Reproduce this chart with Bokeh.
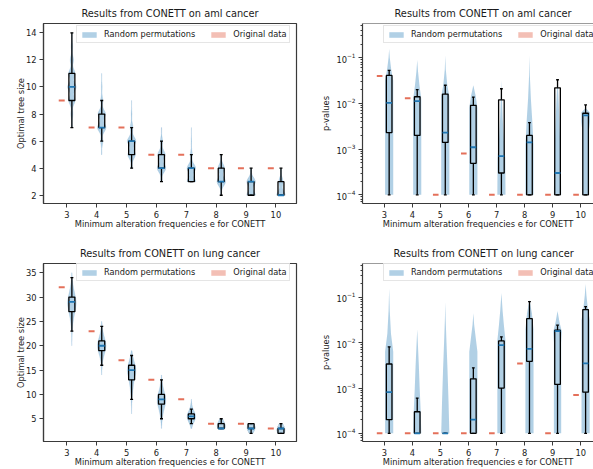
import numpy as np
from bokeh.plotting import figure
from bokeh.layouts import column, row
from bokeh.models import FixedTicker, Legend, LegendItem, Range1d, Span
from bokeh.embed import file_html
from bokeh.resources import INLINE

FONT = "DejaVu Sans"

# ---------------- data ----------------
e_values = [3, 4, 5, 6, 7, 8, 9, 10]

# AML cancer: optimal tree size
aml_size_original = [9, 7, 7, 5, 5, 4, 4, 4]
aml_size_whislo = [7, 6, 4, 3, 3, 2, 2, 2]
aml_size_q1 = [9, 7, 5, 4, 3, 3, 2, 2]
aml_size_median = [10, 7, 6, 4, 4, 3, 3, 2]
aml_size_q3 = [11, 8, 6, 5, 4, 4, 3, 3]
aml_size_whishi = [14, 9, 7, 6, 5, 5, 4, 4]
aml_size_counts = [
    {7: 1, 8: 2, 9: 6, 10: 8, 11: 6, 12: 3, 13: 1.5, 14: 0.8},
    {5: 0.5, 6: 2, 7: 8, 8: 7, 9: 2, 10: 0.8, 11: 0.3},
    {4: 1.5, 5: 7, 6: 8, 7: 2.5, 8: 0.8, 9: 0.3},
    {3: 1.5, 4: 8, 5: 7, 6: 2, 7: 0.5},
    {3: 7, 4: 7, 5: 1.5, 6: 0.5, 7: 0.2},
    {2: 1, 3: 8, 4: 6, 5: 1},
    {2: 7, 3: 7, 4: 1},
    {2: 8, 3: 4, 4: 1},
]

# AML cancer: p-values
aml_p_original = [0.04, 0.013, 1e-4, 0.0008, 1e-4, 1e-4, 1e-4, 1e-4]
aml_p_whislo = [1e-4, 1e-4, 1e-4, 1e-4, 1e-4, 1e-4, 1e-4, 1e-4]
aml_p_q1 = [0.0023, 0.0020, 0.0014, 0.00049, 0.0003, 1e-4, 1e-4, 1e-4]
aml_p_median = [0.0103, 0.0112, 0.0023, 0.0011, 0.0007, 0.0014, 0.0003, 0.0055]
aml_p_q3 = [0.041, 0.014, 0.016, 0.0091, 0.012, 0.002, 0.022, 0.0061]
aml_p_whishi = [0.053, 0.020, 0.025, 0.0138, 0.021, 0.0038, 0.033, 0.0093]
aml_p_violin_log10 = [
    [-4, -1.5, -1.25, -1.0, -0.8],
    [-4, -1.9, -1.6, -1.3, -1.05],
    [-4, -1.85, -1.6, -1.25, -0.95],
    [-4, -2.1, -1.85, -1.6],
    [-4, -3.2, -2.8, -2.3, -1.8, -1.5],
    [-4, -2.9, -2.4, -1.9, -1.4, -0.95],
    [-4, -3.2, -2.6, -2.0, -1.6, -1.45],
    [-4, -2.6, -2.4, -2.2, -2.1],
]
aml_p_violin_width = [
    [1, 1, 0.5, 0.15, 0],
    [1, 1, 0.55, 0.2, 0],
    [1, 1, 0.5, 0.12, 0],
    [1, 1, 0.6, 0],
    [1, 0.95, 0.6, 0.3, 0.1, 0],
    [1, 1, 0.7, 0.35, 0.1, 0],
    [0.9, 0.8, 0.55, 0.3, 0.1, 0],
    [0.8, 0.8, 1.05, 1.05, 0],
]

# Lung cancer: optimal tree size
lung_size_original = [32, 23, 17, 13, 9, 4, 4, 3]
lung_size_whislo = [23, 16, 9, 5, 4, 3, 2, 2]
lung_size_q1 = [27, 19, 13, 8, 5, 3, 3, 2]
lung_size_median = [29, 20, 15, 9, 5.5, 3, 3, 3]
lung_size_q3 = [30, 21, 16, 10, 6, 4, 4, 3]
lung_size_whishi = [34, 24, 18, 13, 7, 5, 4, 4]
lung_size_counts = [
    {20: 0.2, 21: 0.3, 22: 0.5, 23: 1, 24: 1.5, 25: 2.5, 26: 4, 27: 6, 28: 8,
     29: 9, 30: 7, 31: 5, 32: 3, 33: 1.5, 34: 0.8, 35: 0.3},
    {14: 0.2, 15: 0.4, 16: 1, 17: 2, 18: 4, 19: 7, 20: 9, 21: 7, 22: 4, 23: 2,
     24: 1, 25: 0.3},
    {6: 0.2, 7: 0.3, 8: 0.5, 9: 1, 10: 1.5, 11: 2.5, 12: 3.5, 13: 5, 14: 7,
     15: 9, 16: 7, 17: 4, 18: 2, 19: 0.5},
    {3: 0.3, 4: 0.8, 5: 1.5, 6: 3, 7: 5, 8: 8, 9: 9, 10: 7, 11: 4, 12: 2,
     13: 1, 14: 0.3},
    {3: 0.3, 4: 2, 5: 8, 6: 7, 7: 2, 8: 0.5, 9: 0.2},
    {3: 5, 4: 4, 5: 1},
    {2: 1, 3: 6, 4: 3},
    {2: 4, 3: 5, 4: 1},
]

# Lung cancer: p-values
lung_p_original = [1e-4, 1e-4, 1e-4, 1e-4, 1e-4, 0.0035, 1e-4, 0.0007]
lung_p_whislo = [1e-4, 1e-4, 1e-4, 1e-4, 1e-4, 1e-4, 1e-4, 1e-4]
lung_p_q1 = [0.0002, 1e-4, 1e-4, 1e-4, 0.001, 0.0039, 0.0012, 0.00081]
lung_p_median = [0.00081, 1e-4, 1e-4, 0.0002, 0.0089, 0.0073, 0.018, 0.0035]
lung_p_q3 = [0.0034, 0.0003, 1e-4, 0.0016, 0.011, 0.034, 0.019, 0.054]
lung_p_whishi = [0.0081, 0.0006, 1e-4, 0.0028, 0.0135, 0.081, 0.0245, 0.063]
lung_p_violin_log10 = [
    [-4, -2.2, -1.8, -1.3, -0.8],
    [-4, -3.5, -3.0, -2.5, -2.0, -1.7],
    [-4, -3.3, -2.6, -2.0, -1.5, -1.1],
    [-4, -2.2, -1.9, -1.6, -1.35],
    [-4, -1.95, -1.6, -1.3, -0.9],
    [-4, -1.7, -1.35, -1.05],
    [-4, -2.0, -1.75, -1.55, -1.3],
    [-4, -1.5, -1.2, -0.95, -0.7],
]
lung_p_violin_width = [
    [1, 1, 0.45, 0.15, 0],
    [1, 0.85, 0.6, 0.4, 0.15, 0],
    [1, 0.8, 0.55, 0.3, 0.1, 0],
    [1, 1, 0.6, 0.2, 0],
    [1, 1, 0.6, 0.3, 0],
    [1, 1, 0.6, 0],
    [0.9, 0.9, 1.05, 0.5, 0],
    [1, 1, 0.5, 0.2, 0],
]

# ---------------- styling ----------------
BLUE = "#1f77b4"
RED = "#e4705a"
SPINE = "#3a3a3a"
TEXT = "#1a1a1a"
X_START, X_END = 2.22, 10.69
SHIFT = 0.17      # offset of violins (right) and original data (left)
BOX_HW = 0.1
CAP_HW = 0.05
VIOLIN_HW = 0.145
DASH_HW = 0.1
NAN = float("nan")


def make_fig(width, height, x_end, y_range, log, borders, title, ylabel,
             title_offset=None, full_outline=True):
    bl, br, bt, bb = borders
    p = figure(width=width, height=height, x_range=Range1d(X_START, x_end),
               y_range=y_range, y_axis_type="log" if log else "linear",
               output_backend="svg", toolbar_location=None,
               min_border_left=bl, min_border_right=br,
               min_border_top=bt, min_border_bottom=bb)
    p.grid.visible = False
    p.background_fill_color = "white"
    p.border_fill_color = "white"
    p.title.text = title
    p.title.text_font = FONT
    p.title.text_font_size = "9.8px"
    p.title.text_font_style = "normal"
    p.title.text_color = TEXT
    p.title.standoff = 9
    if title_offset is None:
        p.title.align = "center"
    else:
        p.title.align = "left"
        p.title.offset = title_offset
    if full_outline:
        p.outline_line_color = SPINE
        p.outline_line_width = 1.2
    else:
        p.outline_line_color = None
        p.add_layout(Span(location=y_range.end, dimension="width",
                          line_color=SPINE, line_width=1.2))
    for ax in (p.xaxis[0], p.yaxis[0]):
        ax.axis_line_color = SPINE
        ax.axis_line_width = 1.2
        ax.major_tick_line_color = SPINE
        ax.minor_tick_line_color = SPINE
        ax.major_tick_in = 0
        ax.major_tick_out = 4
        ax.minor_tick_in = 0
        ax.major_label_text_font = FONT
        ax.major_label_text_font_size = "8.3px"
        ax.major_label_text_color = TEXT
        ax.axis_label_text_font = FONT
        ax.axis_label_text_font_size = "8.3px"
        ax.axis_label_text_font_style = "normal"
        ax.axis_label_text_color = TEXT
        ax.major_label_standoff = 3
        ax.axis_label_standoff = 2
    p.xaxis.ticker = FixedTicker(ticks=e_values)
    p.xaxis.minor_tick_out = 0
    p.xaxis.axis_label = "Minimum alteration frequencies e for CONETT"
    p.xaxis.axis_label_standoff = -2
    p.yaxis.axis_label = ylabel
    p.yaxis.minor_tick_out = 2 if log else 0
    return p


def add_legend(p, left_px, frame_h):
    r1 = p.quad(left=[NAN], right=[NAN], top=[NAN], bottom=[NAN], fill_color=BLUE,
                fill_alpha=0.35, line_color=None)
    r2 = p.quad(left=[NAN], right=[NAN], top=[NAN], bottom=[NAN], fill_color=RED,
                fill_alpha=0.45, line_color=None)
    leg = Legend(items=[LegendItem(label="Random permutations", renderers=[r1]),
                        LegendItem(label="Original data", renderers=[r2])],
                 orientation="horizontal", location=(left_px, frame_h - 4 - 16))
    leg.label_text_font = FONT
    leg.label_text_font_size = "8.2px"
    leg.label_text_color = TEXT
    leg.glyph_width = 18
    leg.glyph_height = 7
    leg.label_height = 10
    leg.label_standoff = 6
    leg.spacing = 14
    leg.padding = 3
    leg.margin = 0
    leg.border_line_color = "#cccccc"
    leg.border_line_width = 1
    leg.background_fill_alpha = 0.85
    p.add_layout(leg)


def draw_boxes(p, orig, wlo, q1, med, q3, whi):
    xc = [e + SHIFT for e in e_values]
    xo = [e - SHIFT for e in e_values]
    p.segment(x0=xc, x1=xc, y0=wlo, y1=q1, line_color="black", line_width=1.3)
    p.segment(x0=xc, x1=xc, y0=q3, y1=whi, line_color="black", line_width=1.3)
    p.segment(x0=[x - CAP_HW for x in xc], x1=[x + CAP_HW for x in xc],
              y0=wlo, y1=wlo, line_color="black", line_width=1.3)
    p.segment(x0=[x - CAP_HW for x in xc], x1=[x + CAP_HW for x in xc],
              y0=whi, y1=whi, line_color="black", line_width=1.3)
    p.quad(left=[x - BOX_HW for x in xc], right=[x + BOX_HW for x in xc],
           bottom=q1, top=q3, fill_color=None, line_color="black", line_width=1.3)
    p.segment(x0=[x - BOX_HW for x in xc], x1=[x + BOX_HW for x in xc],
              y0=med, y1=med, line_color=BLUE, line_width=1.8)
    p.segment(x0=[x - DASH_HW for x in xo], x1=[x + DASH_HW for x in xo],
              y0=orig, y1=orig, line_color=RED, line_width=2)


def kde_violins(p, counts_list, bw):
    xs, ys = [], []
    for e, counts in zip(e_values, counts_list):
        vals = np.array(list(counts.keys()), float)
        w = np.array(list(counts.values()), float)
        y = np.linspace(vals.min(), vals.max(), 240)
        d = (w[None, :] * np.exp(-0.5 * ((y[:, None] - vals[None, :]) / bw) ** 2)).sum(1)
        d = d / d.max() * VIOLIN_HW
        c = e + SHIFT
        xs.append(list(np.concatenate([c + d, (c - d)[::-1]])))
        ys.append(list(np.concatenate([y, y[::-1]])))
    p.patches(xs, ys, fill_color=BLUE, fill_alpha=0.35, line_color=BLUE,
              line_alpha=0.12, line_width=0.8)


def knot_violins(p, logs, widths):
    xs, ys = [], []
    for e, lg, wd in zip(e_values, logs, widths):
        c = e + SHIFT
        y = [10 ** v for v in lg]
        d = [v * VIOLIN_HW for v in wd]
        xs.append([c + v for v in d] + [c - v for v in d[::-1]])
        ys.append(y + y[::-1])
    p.patches(xs, ys, fill_color=BLUE, fill_alpha=0.35, line_color=None)


# ---------------- figures ----------------
X_END_RIGHT = X_START + 236 / 28.67

p1 = make_fig(318, 235, X_END, Range1d(1.39, 14.69), False, (43, 22, 23, 32),
              "Results from CONETT on aml cancer", "Optimal tree size")
p1.yaxis.ticker = FixedTicker(ticks=[2, 4, 6, 8, 10, 12, 14])
p1.yaxis.axis_label_standoff = -3
kde_violins(p1, aml_size_counts, 0.3)
draw_boxes(p1, aml_size_original, aml_size_whislo, aml_size_q1, aml_size_median,
           aml_size_q3, aml_size_whishi)
add_legend(p1, 33, 180)

p2 = make_fig(275, 235, X_END_RIGHT, Range1d(10 ** -4.19, 10 ** -0.25), True,
              (39, 0, 23, 32), "Results from CONETT on aml cancer", "p-values",
              title_offset=32, full_outline=False)
knot_violins(p2, aml_p_violin_log10, aml_p_violin_width)
draw_boxes(p2, aml_p_original, aml_p_whislo, aml_p_q1, aml_p_median,
           aml_p_q3, aml_p_whishi)
add_legend(p2, 21, 180)

p3 = make_fig(318, 234, X_END, Range1d(0.33, 36.9), False, (43, 22, 28, 26),
              "Results from CONETT on lung cancer", "Optimal tree size")
p3.yaxis.ticker = FixedTicker(ticks=[5, 10, 15, 20, 25, 30, 35])
p3.yaxis.axis_label_standoff = -3
kde_violins(p3, lung_size_counts, 0.8)
draw_boxes(p3, lung_size_original, lung_size_whislo, lung_size_q1, lung_size_median,
           lung_size_q3, lung_size_whishi)
add_legend(p3, 33, 180)

p4 = make_fig(275, 234, X_END_RIGHT, Range1d(10 ** -4.18, 10 ** -0.25), True,
              (39, 0, 28, 26), "Results from CONETT on lung cancer", "p-values",
              title_offset=31, full_outline=False)
knot_violins(p4, lung_p_violin_log10, lung_p_violin_width)
draw_boxes(p4, lung_p_original, lung_p_whislo, lung_p_q1, lung_p_median,
           lung_p_q3, lung_p_whishi)
add_legend(p4, 21, 180)

layout = column(row(p1, p2), row(p3, p4))
open("out.html", "w").write(file_html(layout, INLINE))
